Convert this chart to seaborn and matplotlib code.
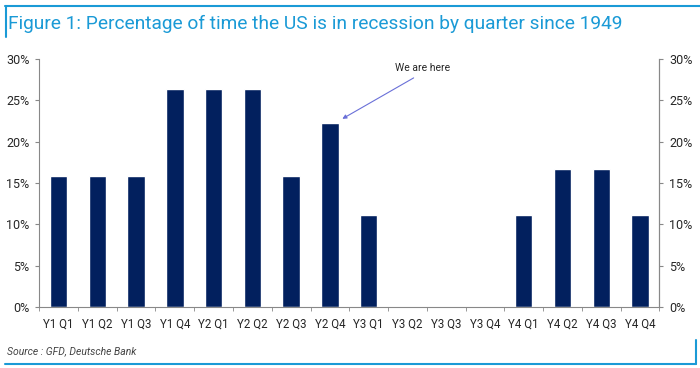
import pandas as pd
import numpy as np
import matplotlib
matplotlib.use('Agg')
import matplotlib.pyplot as plt
import seaborn as sns
from matplotlib.ticker import PercentFormatter, FixedLocator
from matplotlib.lines import Line2D

quarters = ['Y1 Q1', 'Y1 Q2', 'Y1 Q3', 'Y1 Q4', 'Y2 Q1', 'Y2 Q2', 'Y2 Q3', 'Y2 Q4',
            'Y3 Q1', 'Y3 Q2', 'Y3 Q3', 'Y3 Q4', 'Y4 Q1', 'Y4 Q2', 'Y4 Q3', 'Y4 Q4']
pct_recession = [15.8, 15.8, 15.8, 26.3, 26.3, 26.3, 15.8, 22.2,
                 11.1, 0, 0, 0, 11.1, 16.7, 16.7, 11.1]
y_ticks = [0, 5, 10, 15, 20, 25, 30]

df = pd.DataFrame({'quarter': quarters, 'pct': pct_recession})

sns.set_style('white')
plt.rcParams['font.family'] = ['Roboto', 'Liberation Sans', 'DejaVu Sans']

navy = '#02205e'
blue = '#1a9ad6'
grey = '#888888'

fig = plt.figure(figsize=(7, 3.68), dpi=100)
ax = fig.add_axes([0.056, 0.166, 0.886, 0.674])

sns.barplot(data=df, x='quarter', y='pct', color=navy, width=0.45, ax=ax, saturation=1)

ax.set_ylim(0, 30)
ax.set_xlim(-0.5, len(quarters) - 0.5)
ax.yaxis.set_major_locator(FixedLocator(y_ticks))
ax.yaxis.set_major_formatter(PercentFormatter(decimals=0))
ax.set_xlabel('')
ax.set_ylabel('')

for s in ['left', 'right', 'bottom']:
    ax.spines[s].set_visible(True)
    ax.spines[s].set_color(grey)
    ax.spines[s].set_linewidth(0.8)
ax.spines['top'].set_visible(False)

ax.tick_params(axis='y', which='major', left=True, length=3, color=grey,
               labelsize=9, pad=4)
ax.tick_params(axis='x', which='major', bottom=False, labelsize=8.3, pad=4)
ax.xaxis.set_minor_locator(FixedLocator(np.arange(-0.5, len(quarters), 1)))
ax.tick_params(axis='x', which='minor', bottom=True, length=3, color=grey)

ax2 = ax.twinx()
ax2.set_ylim(0, 30)
ax2.yaxis.set_major_locator(FixedLocator(y_ticks))
ax2.yaxis.set_major_formatter(PercentFormatter(decimals=0))
for s in ['top', 'left', 'bottom']:
    ax2.spines[s].set_visible(False)
ax2.spines['right'].set_color(grey)
ax2.spines['right'].set_linewidth(0.8)
ax2.tick_params(axis='y', right=True, length=3, color=grey, labelsize=9, pad=4)

# annotation: text plus arrow down to the Y2 Q4 bar
ax.text(9.4, 28.9, 'We are here', fontsize=7.5, ha='center', va='center')
ax.annotate('', xy=(7.32, 22.75), xytext=(9.16, 27.7),
            arrowprops=dict(arrowstyle='-|>', color='#6a70d8', lw=0.8,
                            mutation_scale=6, shrinkA=0, shrinkB=0))

# title and frame
fig.text(0.012, 0.935, 'Figure 1: Percentage of time the US is in recession by quarter since 1949',
         color=blue, fontsize=13.8, ha='left', va='center')
fig.text(0.01, 0.045, 'Source : GFD, Deutsche Bank', color='#444444',
         fontsize=7.5, style='italic', ha='left', va='center')

fig.add_artist(Line2D([0.007, 1.0], [0.985, 0.985], color=blue, lw=1.5, transform=fig.transFigure))
fig.add_artist(Line2D([0.008, 0.008], [0.985, 0.9], color=blue, lw=1.5, transform=fig.transFigure))
fig.add_artist(Line2D([0.007, 0.994], [0.01, 0.01], color=blue, lw=1.5, transform=fig.transFigure))
fig.add_artist(Line2D([0.994, 0.994], [0.01, 0.075], color=blue, lw=1.5, transform=fig.transFigure))

fig.savefig('out.png', dpi=100)
